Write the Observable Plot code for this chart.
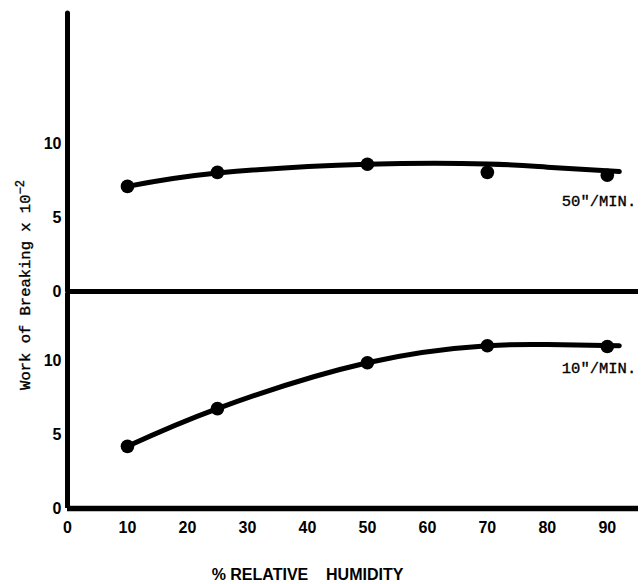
<!DOCTYPE html>
<html>
<head>
<meta charset="utf-8">
<script src="https://cdn.jsdelivr.net/npm/d3@7"></script>
<script src="https://cdn.jsdelivr.net/npm/@observablehq/plot@0.6"></script>
<style>
  body { margin: 0; background: #fff; }
  #chart { position: relative; width: 643px; height: 584px; background: #fff; }
  #chart svg { display: block; overflow: visible; background: transparent; position: relative; }
  #ylabel {
    position: absolute; left: 24.5px; top: 285px;
    transform: translate(-50%, -50%) rotate(-90deg);
    font-family: "Liberation Mono", "DejaVu Sans Mono", monospace;
    font-size: 15.5px; white-space: nowrap; line-height: 1; color: #000;
    -webkit-text-stroke: 0.35px #000;
  }
  #ylabel sup { font-size: 12px; }
</style>
</head>
<body>
<div id="chart"><div id="ylabel">Work of Breaking x 10<sup>−2</sup></div></div>
<script>
// Measured points (% relative humidity vs work of breaking x 10^-2)
const humidity = [10, 25, 50, 70, 90];
const work50 = [7.1, 8.05, 8.6, 8.05, 7.85];   // 50"/min
const work10 = [4.2, 6.75, 9.85, 11.0, 10.95]; // 10"/min
// Hand-drawn smooth curves through the points
const fitHumidity = [10, 25, 50, 70, 80, 92];
const fit50 = [7.1, 8.0, 8.6, 8.62, 8.4, 8.1];
const fit10 = [4.2, 6.75, 9.85, 11.0, 11.08, 11.0];
// Labels and ticks
const seriesLabels = ['50"/MIN.', '10"/MIN.'];
const xTicks = [0, 10, 20, 30, 40, 50, 60, 70, 80, 90];
const yTicks = [0, 5, 10];
const xTitle = "% RELATIVE\u00a0\u00a0\u00a0 HUMIDITY";
const xMax = 95.2;

const pts50 = humidity.map((h, i) => ({h, w: work50[i]}));
const pts10 = humidity.map((h, i) => ({h, w: work10[i]}));
const curve50 = fitHumidity.map((h, i) => ({h, w: fit50[i]}));
const curve10 = fitHumidity.map((h, i) => ({h, w: fit10[i]}));

const tickFont = {fontSize: 16, fontWeight: "bold", fontFamily: "Liberation Sans, Arial, sans-serif"};
const monoFont = {fontSize: 15.5, fontFamily: "Liberation Mono, DejaVu Sans Mono, monospace", stroke: "#000", strokeWidth: 0.35};
const common = {width: 643, marginLeft: 67, marginRight: 5, style: {fontFamily: "Liberation Sans", color: "#000", background: "transparent", overflow: "visible"}};

const topPanel = Plot.plot({
  ...common,
  height: 293, marginTop: 13, marginBottom: 2,
  x: {domain: [0, xMax], axis: null},
  y: {domain: [0, 18.78]},
  marks: [
    Plot.axisY(yTicks, {tickSize: 0, tickPadding: 6, label: null, ...tickFont}),
    Plot.ruleX([0], {stroke: "#000", strokeWidth: 5, strokeLinecap: "round"}),
    Plot.ruleY([0], {x1: 0, x2: xMax, stroke: "#000", strokeWidth: 5}),
    Plot.line(curve50, {x: "h", y: "w", curve: "natural", stroke: "#000", strokeWidth: 5}),
    Plot.dot(pts50, {x: "h", y: "w", r: 6.8, fill: "#000"}),
    Plot.text([curve50[curve50.length - 1]], {x: "h", y: "w", text: () => seriesLabels[0], textAnchor: "start", dx: -57.5, dy: 29, fill: "#000", ...monoFont})
  ]
});

const bottomPanel = Plot.plot({
  ...common,
  height: 291, marginTop: 0, marginBottom: 76,
  x: {domain: [0, xMax]},
  y: {domain: [0, 14.53]},
  marks: [
    Plot.axisY(yTicks, {tickSize: 0, tickPadding: 6, label: null, ...tickFont}),
    Plot.axisX(xTicks, {tickSize: 0, tickPadding: 13, label: null, ...tickFont}),
    Plot.ruleX([0], {stroke: "#000", strokeWidth: 5}),
    Plot.ruleY([0], {x1: 0, x2: xMax, stroke: "#000", strokeWidth: 5.5}),
    Plot.line(curve10, {x: "h", y: "w", curve: "natural", stroke: "#000", strokeWidth: 5}),
    Plot.dot(pts10, {x: "h", y: "w", r: 6.8, fill: "#000"}),
    Plot.text([curve10[curve10.length - 1]], {x: "h", y: "w", text: () => seriesLabels[1], textAnchor: "start", dx: -57.5, dy: 22, fill: "#000", ...monoFont}),
    Plot.text([xTitle], {frameAnchor: "bottom", dx: -45.5, dy: 66, lineAnchor: "middle", fill: "#000", ...tickFont})
  ]
});

const chart = document.getElementById("chart");
chart.appendChild(topPanel);
chart.appendChild(bottomPanel);
</script>
</body>
</html>
